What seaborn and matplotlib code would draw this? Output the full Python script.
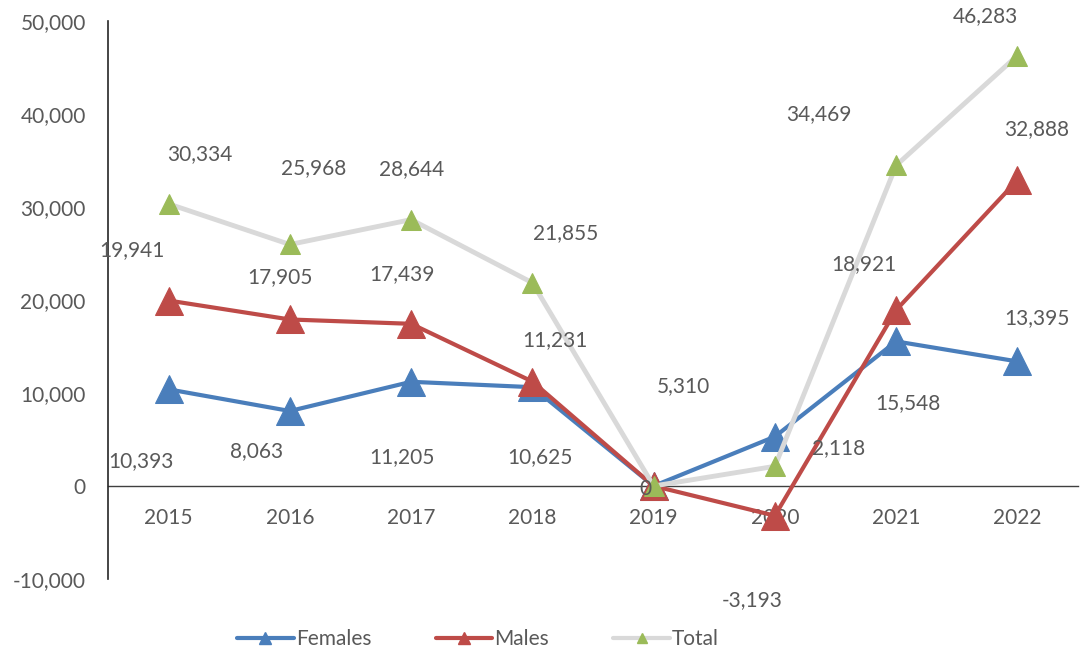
import numpy as np
import pandas as pd
import matplotlib
matplotlib.use("Agg")
import matplotlib.pyplot as plt
from matplotlib.lines import Line2D
import seaborn as sns

years = ["2015", "2016", "2017", "2018", "2019", "2020", "2021", "2022"]
females = [10393, 8063, 11205, 10625, 0, 5310, 15548, 13395]
males = [19941, 17905, 17439, 11231, 0, -3193, 18921, 32888]
total = [30334, 25968, 28644, 21855, 0, 2118, 34469, 46283]

# label offsets in pixels (dx, dy) relative to each point
off_f = [(-28, -72), (-33, -40), (-9, -75), (8, -70), (0, 0), (-91, 51), (12, -62), (20, 43)]
off_m = [(-37, 50), (-10, 42), (-9, 50), (23, 41), (0, 0), (-23, -84), (-32, 46), (19, 51)]
off_t = [(31, 50), (24, 76), (1, 51), (33, 50), (-8, -3), (64, 18), (-77, 51), (-32, 39)]

sns.set_theme(style="white")
plt.rcParams['font.family'] = ['Lato', 'DejaVu Sans']

TXT = "#595959"
C_F = "#4A7EBB"
C_M = "#BE4B48"
C_TL = "#D9D9D9"
C_TM = "#9BBB59"
FS = 15

fig = plt.figure(figsize=(10.8, 6.54), dpi=100)
ax = fig.add_axes([108/1080, 75/654, 970/1080, 558/654])

x = np.arange(len(years))
df = pd.DataFrame({"x": x, "Females": females, "Males": males, "Total": total})

sns.lineplot(data=df, x="x", y="Females", ax=ax, color=C_F, lw=3, marker="^",
             markersize=20, markerfacecolor=C_F, markeredgecolor=C_F, zorder=2)
sns.lineplot(data=df, x="x", y="Males", ax=ax, color=C_M, lw=3, marker="^",
             markersize=20, markerfacecolor=C_M, markeredgecolor=C_M, zorder=3)
sns.lineplot(data=df, x="x", y="Total", ax=ax, color=C_TL, lw=3.5, marker="^",
             markersize=14, markerfacecolor=C_TM, markeredgecolor=C_TM, zorder=4)

for series, offs in ((females, off_f), (males, off_m), (total, off_t)):
    for i, v in enumerate(series):
        if series is not total and v == 0:
            continue
        ax.annotate(f"{v:,}", (x[i], v), xytext=offs[i], textcoords="offset pixels",
                    ha="center", va="center", fontsize=FS, color=TXT, zorder=5)

ax.set_xlim(-0.5, 7.5)
ax.set_ylim(-10000, 50000)
ax.set_yticks(range(-10000, 50001, 10000))
ax.set_yticklabels([f"{v:,}" for v in range(-10000, 50001, 10000)])
ax.set_xticks(x)
ax.set_xticklabels(years)
ax.tick_params(axis="both", length=0, labelsize=FS, labelcolor=TXT)
ax.tick_params(axis="y", pad=16)
ax.tick_params(axis="x", pad=16)
ax.set_xlabel("")
ax.set_ylabel("")

for s in ("top", "right"):
    ax.spines[s].set_visible(False)
ax.spines["bottom"].set_position(("data", 0))
ax.spines["bottom"].set_color("#404040")
ax.spines["bottom"].set_linewidth(1)
ax.spines["bottom"].set_zorder(1)
ax.spines["left"].set_color("#262626")
ax.spines["left"].set_linewidth(1.2)

handles = [
    Line2D([], [], color=C_F, lw=3, marker="^", markersize=9, markerfacecolor=C_F, markeredgecolor=C_F),
    Line2D([], [], color=C_M, lw=3, marker="^", markersize=9, markerfacecolor=C_M, markeredgecolor=C_M),
    Line2D([], [], color=C_TL, lw=3, marker="^", markersize=7, markerfacecolor=C_TM, markeredgecolor=C_TM),
]
fig.legend(handles, ["Females", "Males", "Total"], loc="center",
           bbox_to_anchor=(478/1080, 1 - 639/654), ncol=3, frameon=False,
           fontsize=FS, labelcolor=TXT, handlelength=2.7, handletextpad=0.1,
           columnspacing=3.1)

fig.savefig("out.png", dpi=100)
